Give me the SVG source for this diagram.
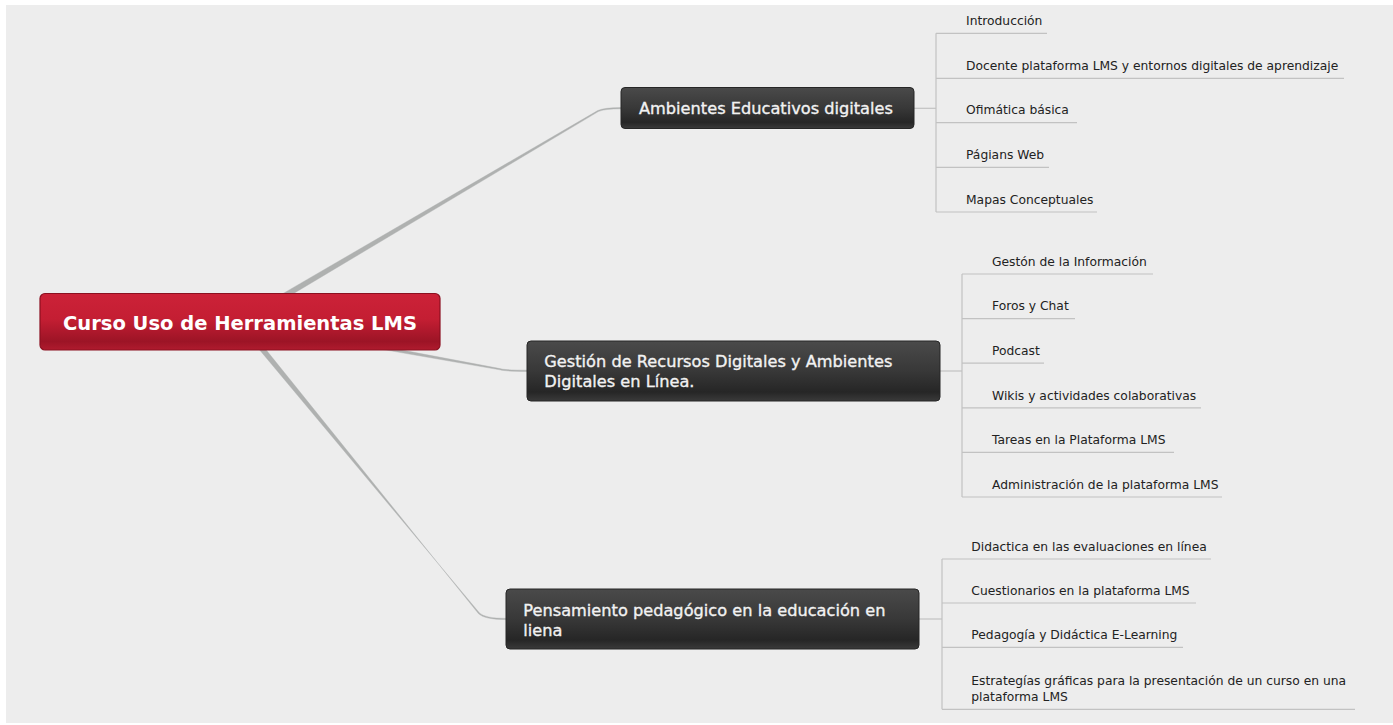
<svg xmlns="http://www.w3.org/2000/svg" width="1393" height="725" viewBox="0 0 1393 725">
<defs>
<linearGradient id="gRed" x1="0" y1="0" x2="0" y2="1">
<stop offset="0" stop-color="#cc2238"/>
<stop offset="0.45" stop-color="#c41e33"/>
<stop offset="0.85" stop-color="#9c1426"/>
<stop offset="1" stop-color="#b01b2e"/>
</linearGradient>
<linearGradient id="gDark" x1="0" y1="0" x2="0" y2="1">
<stop offset="0" stop-color="#4a4a4a"/>
<stop offset="0.5" stop-color="#383838"/>
<stop offset="0.85" stop-color="#262626"/>
<stop offset="1" stop-color="#3a3a3a"/>
</linearGradient>
<style>
.bg{fill:#ededed}
.conn{fill:#afb1b0;stroke:#afb1b0;stroke-width:0.4;stroke-linejoin:round}
.leafline{stroke:#c2c2c2;stroke-width:1.2;fill:none}
.root rect{fill:url(#gRed);stroke:#8c1020;stroke-width:1.2}
.root text{font-family:"DejaVu Sans",Verdana,sans-serif;font-weight:bold;font-size:19.5px;fill:#ffffff;text-anchor:middle}
.branch rect{fill:url(#gDark);stroke:#262626;stroke-width:1}
.branch text{font-family:"DejaVu Sans",Verdana,sans-serif;font-size:16.2px;fill:#f2f2f2;stroke:#f2f2f2;stroke-width:0.35}
.leaf text{font-family:"DejaVu Sans",Verdana,sans-serif;font-size:12.3px;fill:#222222}
</style>
</defs>
<rect x="0" y="0" width="1393" height="725" fill="#ffffff"/>
<rect class="bg" x="6" y="5" width="1387" height="718"/>

<g id="connectors">
<path class="conn" d="M 238.5 319.4 L 597.7 110.6 Q 604 107.6 621 107.6 L 621 108.8 Q 604.5 108.8 598.3 111.6 L 241.5 324.6 Z"/>
<path class="conn" d="M 240.4 319.5 L 500 368.6 Q 505 370.2 527 370.2 L 527 371.4 Q 505 371.4 499.8 369.8 L 239.6 324.5 Z"/>
<path class="conn" d="M 237.6 323.6 L 479.5 613 Q 485 618.4 506 618.4 L 506 619.6 Q 484.5 619.6 478.6 613.8 L 242.4 320.4 Z"/>
<g class="leafline">
<path d="M 914 108.3 H 936"/>
<path d="M 936 33.3 V 212"/>
<path d="M 936 33.3 H 1047"/>
<path d="M 936 78.3 H 1344"/>
<path d="M 936 122.7 H 1077"/>
<path d="M 936 167.3 H 1049"/>
<path d="M 936 212 H 1097"/>
<path d="M 940 371 H 962"/>
<path d="M 962 274 V 497"/>
<path d="M 962 274 H 1153"/>
<path d="M 962 318.6 H 1075"/>
<path d="M 962 363.2 H 1044"/>
<path d="M 962 407.8 H 1201"/>
<path d="M 962 452.4 H 1174"/>
<path d="M 962 497 H 1222"/>
<path d="M 919 619 H 942"/>
<path d="M 942 559 V 709.3"/>
<path d="M 942 559 H 1211"/>
<path d="M 942 603 H 1196"/>
<path d="M 942 647.3 H 1183"/>
<path d="M 942 709.3 H 1355"/>
</g>
</g>

<g id="root" class="root">
<rect x="40" y="293.5" width="400" height="56.5" rx="5"/>
<text x="240" y="329.5">Curso Uso de Herramientas LMS</text>
</g>

<g id="branch-ambientes" class="branch">
<rect x="621" y="87.5" width="293" height="41" rx="4"/>
<text x="639" y="114">Ambientes Educativos digitales</text>
</g>
<g id="branch-gestion" class="branch">
<rect x="527" y="341" width="413" height="60" rx="4"/>
<text x="544.3" y="367.3">Gestión de Recursos Digitales y Ambientes</text>
<text x="544.3" y="387.3">Digitales en Línea.</text>
</g>
<g id="branch-pensamiento" class="branch">
<rect x="506" y="589" width="413" height="60" rx="4"/>
<text x="523.3" y="616">Pensamiento pedagógico en la educación en</text>
<text x="523.3" y="635.5">liena</text>
</g>

<g id="leaf-introduccion" class="leaf"><text x="966" y="25">Introducción</text></g>
<g id="leaf-docente" class="leaf"><text x="966" y="70">Docente plataforma LMS y entornos digitales de aprendizaje</text></g>
<g id="leaf-ofimatica" class="leaf"><text x="966" y="114.4">Ofimática básica</text></g>
<g id="leaf-paginas" class="leaf"><text x="966" y="159">Págians Web</text></g>
<g id="leaf-mapas" class="leaf"><text x="966" y="203.7">Mapas Conceptuales</text></g>

<g id="leaf-gestion-info" class="leaf"><text x="992" y="265.7">Gestón de la Información</text></g>
<g id="leaf-foros" class="leaf"><text x="992" y="310.3">Foros y Chat</text></g>
<g id="leaf-podcast" class="leaf"><text x="992" y="354.9">Podcast</text></g>
<g id="leaf-wikis" class="leaf"><text x="992" y="399.5">Wikis y actividades colaborativas</text></g>
<g id="leaf-tareas" class="leaf"><text x="992" y="444.1">Tareas en la Plataforma LMS</text></g>
<g id="leaf-admin" class="leaf"><text x="992" y="488.7">Administración de la plataforma LMS</text></g>

<g id="leaf-didactica" class="leaf"><text x="971.3" y="550.7">Didactica en las evaluaciones en línea</text></g>
<g id="leaf-cuestionarios" class="leaf"><text x="971.3" y="594.7">Cuestionarios en la plataforma LMS</text></g>
<g id="leaf-pedagogia" class="leaf"><text x="971.3" y="639">Pedagogía y Didáctica E-Learning</text></g>
<g id="leaf-estrategias" class="leaf"><text x="971.3" y="684.5">Estrategías gráficas para la presentación de un curso en una</text><text x="971.3" y="700.5">plataforma LMS</text></g>
</svg>
